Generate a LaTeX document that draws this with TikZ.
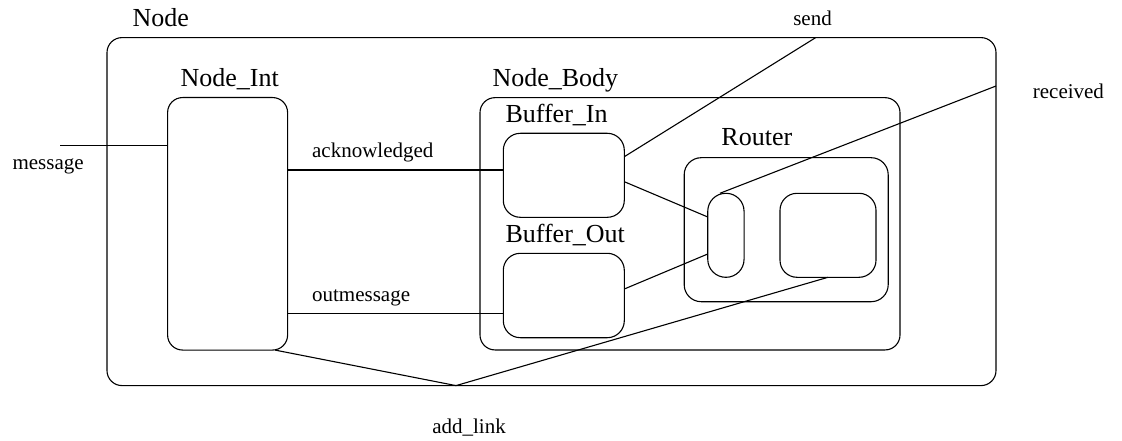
\documentclass[tikz,border=0pt]{standalone}
\usepackage{fontspec}
\setmainfont{Liberation Serif}

\tikzset{
  box/.style={draw, rounded corners=15pt, inner sep=0pt, outer sep=0pt},
  title/.style={font=\fontsize{26}{30}\selectfont, anchor=base west, inner sep=0pt},
  msg/.style={font=\fontsize{21}{25}\selectfont, anchor=base west, inner sep=0pt},
}

\begin{document}
\begin{tikzpicture}[x=1pt, y=-1pt, line width=1.1pt]
\useasboundingbox (0,0) rectangle (1122,441);
% containers
\node[box, minimum width=889pt, minimum height=348pt] (node) at (551.5,211.6) {};
\node[box, minimum width=120pt, minimum height=252.5pt] (nodeint) at (227.6,223.8) {};
\node[box, minimum width=420pt, minimum height=252.3pt] (nodebody) at (690,223.8) {};
\node[box, rounded corners=17pt, minimum width=121pt, minimum height=84pt] (bufin) at (563.8,175.3) {};
\node[box, rounded corners=17pt, minimum width=121pt, minimum height=84.4pt] (bufout) at (563.8,295.5) {};
\node[box, rounded corners=17pt, minimum width=204pt, minimum height=144pt] (router) at (786.2,229.7) {};
\node[box, rounded corners=18pt, minimum width=36.3pt, minimum height=84pt] (port) at (725.9,235.3) {};
\node[box, rounded corners=17pt, minimum width=96pt, minimum height=84pt] (rtable) at (828,235.3) {};

\node[title] (nodetitle) at ([shift={(25pt,11.5pt)}]node.north west) {Node};
\node[title] (inttitle) at ([shift={(12.5pt,11.5pt)}]nodeint.north west) {Node\_Int};
\node[title] (bodytitle) at ([shift={(12pt,11.5pt)}]nodebody.north west) {Node\_Body};
\node[title] (intitle) at ([shift={(1.7pt,11pt)}]bufin.north west) {Buffer\_In};
\node[title] (outtitle) at ([shift={(1.7pt,11pt)}]bufout.north west) {Buffer\_Out};
\node[title] (routertitle) at ([shift={(36.7pt,11.7pt)}]router.north west) {Router};

% links
\coordinate (msgend) at (60,145.7);
\draw (msgend) -- (msgend -| nodeint.west);
\node[msg] (msglbl) at (12,170) {message};

\draw (nodeint.east |- 0,170) -- (bufin.west |- 0,170)
  node[msg, at start, xshift=24pt, yshift=12.7pt] (acklbl) {acknowledged};
\draw (nodeint.east |- 0,313.3) -- (bufout.west |- 0,313.3)
  node[msg, at start, xshift=24pt, yshift=11.6pt] (outlbl) {outmessage};

\draw ([yshift=-6.4pt]bufin.east) -- ([yshift=18.3pt]port.west);
\draw ([yshift=6.5pt]bufout.east) -- ([yshift=-18.7pt]port.west);

\draw ([yshift=18.6pt]bufin.east) -- (node.north -| 815.7,0);
\node[msg] (sendlbl) at (792.7,26) {send};

\draw ([xshift=-6pt]port.north) -- (node.east |- 0,86);
\node[msg] (recvlbl) at (1032.3,98.3) {received};

\draw ([xshift=-12.7pt]nodeint.south east) -- (node.south -| 456,0) -- (rtable.south);
\node[msg] (linklbl) at (431.7,433) {add\_link};
\end{tikzpicture}
\end{document}
